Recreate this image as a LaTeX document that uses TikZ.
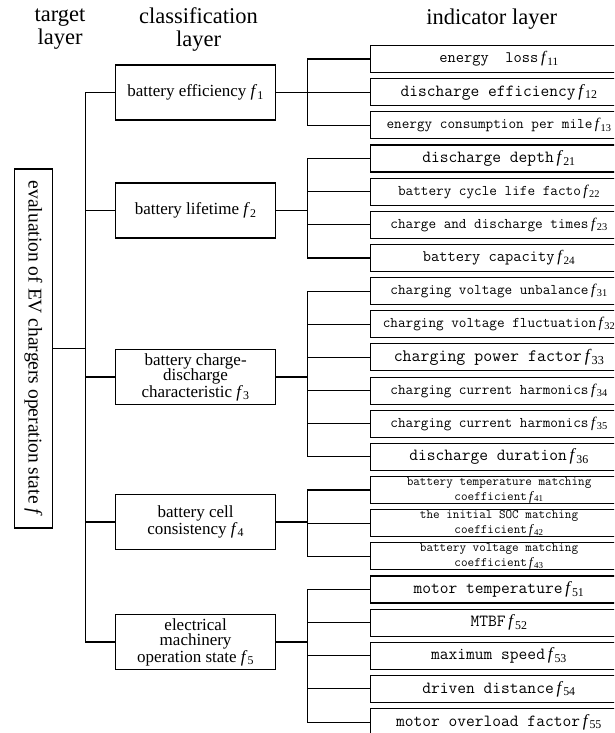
\documentclass[tikz,border=0pt]{standalone}
\usepackage{fontspec}
\setmainfont{Liberation Serif}
\usepackage{tikz}
\newcommand\fsub[1]{\textrm{\,\textit{f}\textsubscript{#1}}}
\newcommand\fs[1]{\fontsize{#1}{15}\selectfont\ttfamily}

\begin{document}
\begin{tikzpicture}[x=1pt,y=-1pt,
 hdr/.style={align=center,font=\fontsize{22.5}{23}\selectfont},
 goalbox/.style={draw,line width=1.1pt,rotate=-90,minimum width=359pt,minimum height=38.4pt,inner sep=0pt,font=\fontsize{19.5}{20}\selectfont},
 cls/.style={draw,line width=1.1pt,minimum width=160pt,minimum height=55pt,inner sep=0pt,align=center,font=\fontsize{17}{15.5}\selectfont},
 ind/.style={draw,line width=1.1pt,minimum width=257pt,minimum height=27pt,inner sep=0pt,align=center,anchor=north west},
 link/.style={line width=1.1pt}]
\path[use as bounding box] (0,0) rectangle (614,733);
\clip (0,0) rectangle (614,733);
\node[hdr] (h1) at (60,29) {target\\layer};
\node[hdr] (h2) at (198.5,30) {classification\\layer};
\node[hdr] (h3) at (491.7,19) {indicator layer};
\node[goalbox] (goal) at (33.5,348.5) {evaluation of EV chargers operation state \textit{f}};
\foreach \g/\y/\t in {1/92.5/{battery efficiency \textit{f}\textsubscript{1}},
2/210.5/{battery lifetime \textit{f}\textsubscript{2}},
3/377/{battery charge-\\discharge\\characteristic \textit{f}\textsubscript{3}},
4/522/{battery cell\\consistency \textit{f}\textsubscript{4}},
5/642/{electrical\\machinery\\operation state \textit{f}\textsubscript{5}}}
 \node[cls] (c\g) at (195.6,\y) {\t};
\foreach \n/\k/\s/\t in {11/0/16/{energy\ \ loss\fsub{11}},
12/1/17/{discharge efficiency\fsub{12}},
13/2/14.8/{energy consumption per mile\fsub{13}},
21/3/17/{discharge depth\fsub{21}},
22/4/14.8/{battery cycle life facto\fsub{22}},
23/5/14.8/{charge and discharge times\fsub{23}},
24/6/16/{battery capacity\fsub{24}},
31/7/14.8/{charging voltage unbalance\fsub{31}},
32/8/14.8/{charging voltage fluctuation\fsub{32}},
33/9/17.4/{charging power factor\fsub{33}},
34/10/14.8/{charging current harmonics\fsub{34}},
35/11/14.8/{charging current harmonics\fsub{35}},
36/12/17/{discharge duration\fsub{36}},
41/13/12.8/{battery temperature matching\\coefficient\fsub{41}},
42/14/12.8/{the initial SOC matching\\coefficient\fsub{42}},
43/15/12.8/{battery voltage matching\\coefficient\fsub{43}},
51/16/17/{motor temperature\fsub{51}},
52/17/17/{MTBF\fsub{52}},
53/18/17/{maximum speed\fsub{53}},
54/19/17/{driven distance\fsub{54}},
55/20/17/{motor overload factor\fsub{55}}}
 \node[ind,font=\fs{\s}] (i\n) at (370,45+33.15*\k) {\t};
\foreach \g in {1,...,5}
 \draw[link] (goal.north) -- ++(32,0) |- (c\g.west);
\foreach \g/\m in {1/3,2/4,3/6,4/3,5/5}
 \foreach \k in {1,...,\m} \draw[link] (c\g.east) -- ++(31.2,0) |- (i\g\k.west);
\end{tikzpicture}
\end{document}
